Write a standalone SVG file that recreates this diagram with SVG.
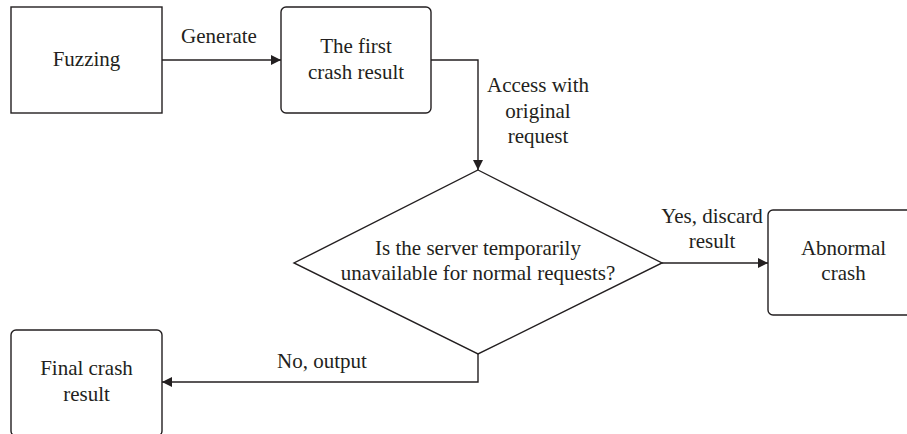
<svg xmlns="http://www.w3.org/2000/svg" width="907" height="434" viewBox="0 0 907 434">
<style>
.box{fill:#fff;stroke:#231f20;stroke-width:1.4}
.ln{fill:none;stroke:#231f20;stroke-width:1.4}
text{font-family:"Liberation Serif","Times New Roman",serif;font-size:21px;fill:#231f20;text-anchor:middle}
</style>
<defs>
<marker id="ah" viewBox="0 0 10 10" refX="10" refY="5" markerWidth="10" markerHeight="10" markerUnits="userSpaceOnUse" orient="auto">
<path d="M0,0 L10,5 L0,10 Z" fill="#231f20"/>
</marker>
</defs>
<rect width="907" height="434" fill="#fff"/>
<g id="connectors">
<line class="ln" x1="162" y1="60" x2="281" y2="60" marker-end="url(#ah)"/>
<text x="219" y="43">Generate</text>
<polyline class="ln" points="431,60 478,60 478,170" marker-end="url(#ah)"/>
<text x="538" y="92">Access with</text>
<text x="538" y="118">original</text>
<text x="538" y="143">request</text>
<line class="ln" x1="662" y1="263" x2="768" y2="263" marker-end="url(#ah)"/>
<text x="712" y="223">Yes, discard</text>
<text x="712" y="248">result</text>
<polyline class="ln" points="478,354 478,382 162,382" marker-end="url(#ah)"/>
<text x="322" y="368">No, output</text>
</g>
<g id="fuzzing">
<rect class="box" x="11" y="7" width="151" height="106"/>
<text x="86.5" y="66">Fuzzing</text>
</g>
<g id="first-crash">
<rect class="box" x="281" y="7" width="150" height="106" rx="5"/>
<text x="356" y="53">The first</text>
<text x="356" y="79">crash result</text>
</g>
<g id="decision">
<polygon class="box" points="478,170 662,263 478,354 294,263"/>
<text x="478" y="255">Is the server temporarily</text>
<text x="478" y="280">unavailable for normal requests?</text>
</g>
<g id="abnormal">
<rect class="box" x="768" y="210" width="151" height="105" rx="5"/>
<text x="843.5" y="255">Abnormal</text>
<text x="843.5" y="280">crash</text>
</g>
<g id="final">
<rect class="box" x="11" y="330" width="151" height="106" rx="5"/>
<text x="86.5" y="375">Final crash</text>
<text x="86.5" y="401">result</text>
</g>
</svg>
